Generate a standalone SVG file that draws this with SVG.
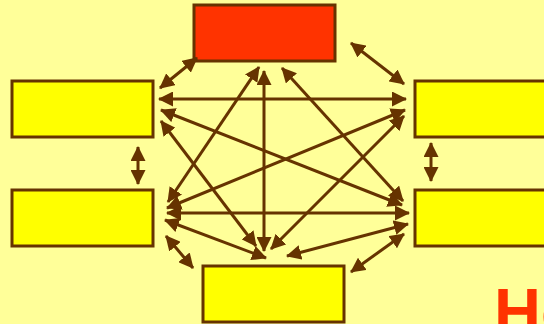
<svg xmlns="http://www.w3.org/2000/svg" width="544" height="324" viewBox="0 0 544 324">
<style>
.box{fill:#FFFF00;stroke:#663300;stroke-width:3}
.red{fill:#FF3300;stroke:#663300;stroke-width:3}
.c line{stroke:#663300;stroke-width:3;marker-start:url(#ah);marker-end:url(#ah)}
.t{font-family:"Liberation Sans",Arial,sans-serif;font-weight:bold;font-size:65px;fill:#FF3300}
</style>
<defs>
<marker id="ah" viewBox="0 0 15 15" markerUnits="userSpaceOnUse" markerWidth="15" markerHeight="15" refX="14" refY="7.5" orient="auto-start-reverse">
<path d="M0,0 L15,7.5 L0,15 z" fill="#663300"/>
</marker>
</defs>
<rect width="544" height="324" fill="#FFFF99"/>
<g id="n-top"><rect class="red" x="194" y="5" width="141" height="56"/></g>
<g id="n-left-top"><rect class="box" x="12" y="81" width="141" height="56"/></g>
<g id="n-right-top"><rect class="box" x="415" y="81" width="141" height="56"/></g>
<g id="n-left-bottom"><rect class="box" x="12" y="190" width="141" height="56"/></g>
<g id="n-right-bottom"><rect class="box" x="415" y="190" width="141" height="56"/></g>
<g id="n-bottom"><rect class="box" x="203" y="266" width="141" height="56"/></g>
<g id="connectors" class="c">
<line x1="197" y1="58" x2="160" y2="88"/>
<line x1="351" y1="43" x2="404" y2="84"/>
<line x1="159" y1="99" x2="406" y2="99"/>
<line x1="138" y1="147" x2="138" y2="184"/>
<line x1="431" y1="143" x2="431" y2="181"/>
<line x1="167" y1="213" x2="409" y2="213"/>
<line x1="264" y1="71" x2="264" y2="251"/>
<line x1="259" y1="67" x2="168" y2="202"/>
<line x1="282" y1="68" x2="403" y2="201"/>
<line x1="161" y1="110" x2="402" y2="205"/>
<line x1="161" y1="121" x2="256" y2="246"/>
<line x1="405" y1="110" x2="167" y2="208"/>
<line x1="404" y1="116" x2="271" y2="249"/>
<line x1="165" y1="220" x2="266" y2="258"/>
<line x1="408" y1="224" x2="287" y2="256"/>
<line x1="166" y1="236" x2="193" y2="268"/>
<line x1="404" y1="234" x2="351" y2="272"/>
</g>
<text class="t" x="494" y="334">He</text>
</svg>
